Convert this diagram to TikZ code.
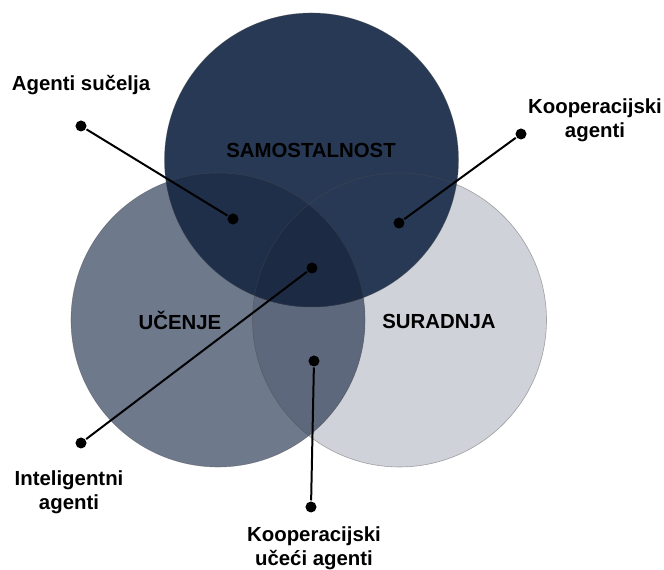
\documentclass[tikz,border=0pt]{standalone}
\usepackage{fontspec}
\setmainfont{Liberation Sans}
\definecolor{samocol}{HTML}{283955}
\definecolor{ucecol}{HTML}{6E798C}
\definecolor{surcol}{HTML}{CFD2D9}
\definecolor{uceSur}{HTML}{5D687C}
\definecolor{samoUce}{HTML}{1F2E49}
\definecolor{middle}{HTML}{1C2A44}
\tikzset{
  dot/.style={circle, fill=black, inner sep=0pt, minimum size=9.4pt},
  lbl/.style={font=\fontsize{17.4}{20.5}\selectfont\bfseries, align=center, inner sep=0pt},
  rim/.style={draw=black!70, draw opacity=0.45, line width=0.5pt}
}
\begin{document}
\begin{tikzpicture}[x=0.03cm, y=0.03cm, line width=1.7pt]
	\useasboundingbox (0,0) rectangle (664,570);
	% circle centres
	\coordinate (T) at (311.5,410);
	\coordinate (L) at (218,250);
	\coordinate (R) at (399.5,250);
	\def\rad{147}

	% the three sets
	\fill[surcol] (R) circle (\rad);
	\fill[ucecol] (L) circle (\rad);
	\begin{scope}
		\clip (L) circle (\rad);
		\fill[uceSur] (R) circle (\rad);
	\end{scope}
	\fill[samocol] (T) circle (\rad);
	\begin{scope}
		\clip (T) circle (\rad);
		\fill[samoUce] (L) circle (\rad);
		\clip (L) circle (\rad);
		\fill[middle] (R) circle (\rad);
	\end{scope}
	\draw[rim] (R) circle (\rad);
	\draw[rim] (L) circle (\rad);
	\draw[rim] (T) circle (\rad);

	\node[lbl] (samo) at (311,420) {SAMOSTALNOST};
	\node[lbl] (ucenje) at (180,250) {UČENJE};
	\node[lbl] (suradnja) at (439,249) {SURADNJA};

	% pointers
	\node[dot] (sucout) at (81,444) {};
	\node[dot] (sucin) at (233,351) {};
	\node[dot] (kagout) at (521,436) {};
	\node[dot] (kagin) at (399,347) {};
	\node[dot] (intout) at (81,127) {};
	\node[dot] (intin) at (312,302) {};
	\node[dot] (kucout) at (311,63) {};
	\node[dot] (kucin) at (314,209) {};

	\node[lbl] (suc) at (81,485) {Agenti sučelja};
	\node[lbl] (kag) at (595,450) {Kooperacijski\\agenti};
	\node[lbl] (int) at (69,78) {Inteligentni\\agenti};
	\node[lbl] (kuc) at (314,22) {Kooperacijski\\učeći agenti};

	\draw (sucout) -- (sucin);
	\draw (kagout) -- (kagin);
	\draw (intout) -- (intin);
	\draw (kucout) -- (kucin);
\end{tikzpicture}
\end{document}
